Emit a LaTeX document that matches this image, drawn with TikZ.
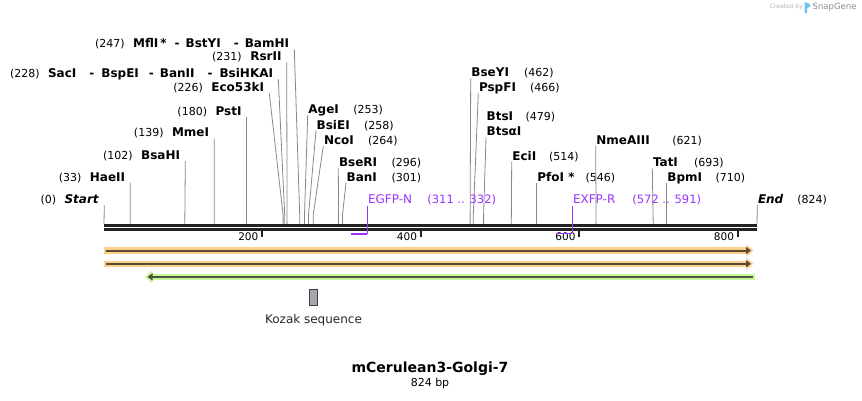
\documentclass[tikz,border=0pt]{standalone}
\usepackage{fontspec}
\setmainfont{DejaVu Sans}[ItalicFont={DejaVu Sans Oblique}, BoldFont={DejaVu Sans Bold}, BoldItalicFont={DejaVu Sans Bold Oblique}]
\usetikzlibrary{arrows.meta, positioning}
\definecolor{sitegray}{RGB}{135,135,135}
\definecolor{barblack}{RGB}{34,34,34}
\definecolor{primerpurple}{RGB}{153,51,255}
\definecolor{orangefill}{RGB}{253,208,138}
\definecolor{orangeline}{RGB}{90,74,58}
\definecolor{greenfill}{RGB}{200,245,154}
\definecolor{greenline}{RGB}{74,88,62}
\definecolor{kozakgray}{RGB}{164,168,174}
\definecolor{logoblue}{RGB}{110,196,238}
\newcommand{\enz}[1]{{\fontsize{12}{15}\selectfont\bfseries #1}}
\newcommand{\rlab}[3]{\makebox[#1][l]{\enz{#2}}(#3)}
\newcommand{\llab}[2]{(#1)\hspace{8.5pt}\enz{#2}}
\tikzstyle{site} = [inner ysep=1.5pt, text depth=0pt, text=black,
    font=\fontsize{11}{15}\selectfont]
\tikzstyle{rsite} = [site, anchor=south west, inner xsep=0.5pt]
\tikzstyle{lsite} = [site, anchor=south east, inner xsep=5pt]
\tikzstyle{cut} = [draw=sitegray, line width=0.8pt]
\tikzstyle{primer} = [draw=primerpurple, line width=1pt]
\tikzstyle{plabel} = [rsite, text=primerpurple, font=\fontsize{11.5}{15}\selectfont]
\tikzstyle{ticklabel} = [anchor=east, inner sep=1pt, font=\fontsize{10.5}{13}\selectfont]
\tikzstyle{halo} = [line width=6.4pt]
\tikzstyle{core} = [line width=2pt]

\begin{document}
\begin{tikzpicture}[x=1pt, y=-1pt]
  \useasboundingbox (0,0) rectangle (862,400);

  % Cut sites on the backbone
  \coordinate (c0) at (104,224);
  \coordinate (c33) at (130.2,224);
  \coordinate (c102) at (184.8,224);
  \coordinate (c139) at (214.2,224);
  \coordinate (c180) at (246.7,224);
  \coordinate (c226) at (283.1,224);
  \coordinate (c228) at (284.7,224);
  \coordinate (c231) at (287.1,224);
  \coordinate (c247) at (299.7,224);
  \coordinate (c253) at (304.5,224);
  \coordinate (c258) at (308.5,224);
  \coordinate (c264) at (313.2,224);
  \coordinate (c296) at (338.6,224);
  \coordinate (c301) at (342.5,224);
  \coordinate (c462) at (470.1,224);
  \coordinate (c466) at (473.3,224);
  \coordinate (c479) at (483.6,224);
  \coordinate (c514) at (511.3,224);
  \coordinate (c546) at (536.7,224);
  \coordinate (c621) at (596.1,224);
  \coordinate (c693) at (653.2,224);
  \coordinate (c710) at (666.7,224);
  \coordinate (c824) at (757,224);

  % Enzymes, left of their lines
  \node [lsite] (startlbl) at (104.3,205) {\llab{0}{\textit{Start}}};
  \node [lsite] (haeii) at (130.3,182.7) {\llab{33}{HaeII}};
  \node [lsite] (bsahi) at (185.3,161) {\llab{102}{BsaHI}};
  \node [lsite] (mmei) at (214.3,138.3) {\llab{139}{MmeI}};
  \node [lsite] (psti) at (246.7,117.3) {\llab{180}{PstI}};
  \node [lsite] (eco) at (269.3,93.3) {\llab{226}{Eco53kI}};
  \node [lsite] (saci) at (278.3,79)
    {\llab{228}{SacI\hspace{13pt}-\hspace{7pt}BspEI\hspace{10pt}-\hspace{6pt}BanII\hspace{13pt}-\hspace{7pt}BsiHKAI}};
  \node [lsite] (rsrii) at (286.7,62.3) {\llab{231}{RsrII}};
  \node [lsite] (bamhi) at (294.3,49.3)
    {\llab{247}{MflI\,*\hspace{8pt}-\hspace{6pt}BstYI\hspace{13pt}-\hspace{6pt}BamHI}};

  % Enzymes, right of their lines
  \node [rsite] (agei) at (307.7,115) {\rlab{45pt}{AgeI}{253}};
  \node [rsite] (bsiei) at (316,130.7) {\rlab{47.3pt}{BsiEI}{258}};
  \node [rsite] (ncoi) at (323.3,146) {\rlab{44pt}{NcoI}{264}};
  \node [rsite] (bseri) at (338.3,168.3) {\rlab{52.7pt}{BseRI}{296}};
  \node [rsite] (bani) at (346,182.7) {\rlab{45pt}{BanI}{301}};
  \node [rsite] (bseyi) at (470.7,78.3) {\rlab{52.6pt}{BseYI}{462}};
  \node [rsite] (pspfi) at (478.3,93.3) {\rlab{51pt}{PspFI}{466}};
  \node [rsite] (btsi) at (486,122.3) {\rlab{39pt}{BtsI}{479}};
  \node [rsite] (btsa) at (486,137.3) {\enz{BtsαI}};
  \node [rsite] (ecii) at (511.7,161.7) {\rlab{36.6pt}{EciI}{514}};
  \node [rsite] (pfoi) at (536.7,183.3) {\rlab{48.3pt}{PfoI *}{546}};
  \node [rsite] (nmeaiii) at (595.7,146) {\rlab{76pt}{NmeAIII}{621}};
  \node [rsite] (tati) at (652.3,168.3) {\rlab{41pt}{TatI}{693}};
  \node [rsite] (bpmi) at (666.7,183.3) {\rlab{48.3pt}{BpmI}{710}};
  \node [rsite] (endlbl) at (757.3,205) {\rlab{39.4pt}{\textit{End}}{824}};

  % Connect the labels to the cut sites
  \draw [cut] (startlbl.south east) -- (c0);
  \draw [cut] (haeii.south east) -- (c33);
  \draw [cut] (bsahi.south east) -- (c102);
  \draw [cut] (mmei.south east) -- (c139);
  \draw [cut] (psti.south east) -- (c180);
  \draw [cut] (eco.south east) -- ([yshift=9pt]c226) -- (c226);
  \draw [cut] (saci.south east) -- ([yshift=9pt]c228) -- (c228);
  \draw [cut] (rsrii.south east) -- (c231);
  \draw [cut] (bamhi.south east) -- ([yshift=9pt]c247) -- (c247);
  \draw [cut] (agei.south west) -- ([yshift=9pt]c253) -- (c253);
  \draw [cut] (bsiei.south west) -- ([yshift=9pt]c258) -- (c258);
  \draw [cut] (ncoi.south west) -- ([yshift=9pt]c264) -- (c264);
  \draw [cut] (bseri.south west) -- (c296);
  \draw [cut] (bani.south west) -- ([yshift=9pt]c301) -- (c301);
  \draw [cut] (bseyi.south west) -- (c462);
  \draw [cut] (pspfi.south west) -- ([yshift=9pt]c466) -- (c466);
  \draw [cut] (btsa.south west) -- ([yshift=9pt]c479) -- (c479);
  \draw [cut] (ecii.south west) -- (c514);
  \draw [cut] (pfoi.south west) -- (c546);
  \draw [cut] (nmeaiii.south west) -- (c621);
  \draw [cut] (tati.south west) -- (c693);
  \draw [cut] (bpmi.south west) -- (c710);
  \draw [cut] (endlbl.south west) -- (c824);

  % Backbone and ruler
  \draw [barblack, line width=2.6pt] (104,225.4) -- (757.3,225.4);
  \draw [barblack, line width=2.8pt] (104,229.5) -- (757.3,229.5);
  \draw [barblack, line width=1.8pt] (262,230) -- (262,237.3);
  \draw [barblack, line width=1.8pt] (420.7,230) -- (420.7,237.3);
  \draw [barblack, line width=1.8pt] (579.2,230) -- (579.2,237.3);
  \draw [barblack, line width=1.8pt] (737.7,230) -- (737.7,237.3);
  \node [ticklabel] (t200) at (259.5,236.5) {200};
  \node [ticklabel] (t400) at (418.2,236.5) {400};
  \node [ticklabel] (t600) at (576.7,236.5) {600};
  \node [ticklabel] (t800) at (735.2,236.5) {800};

  % Primers
  \coordinate (p311) at (350.5,234);
  \coordinate (p332) at (367.3,234);
  \coordinate (p572) at (556.3,233.3);
  \coordinate (p591) at (572.3,233.3);
  \node [plabel] (egfpn) at (367.3,205.5)
    {\makebox[59.4pt][l]{\fontsize{12}{15}\selectfont EGFP-N}(311 .. 332)};
  \node [plabel] (exfpr) at (572.3,205.5)
    {\makebox[59.4pt][l]{\fontsize{12}{15}\selectfont EXFP-R}(572 .. 591)};
  \draw [primer] (egfpn.south west) -- (p332);
  \draw [primer, line width=1.6pt] (p332) -- (p311);
  \draw [primer] (exfpr.south west) -- (p591);
  \draw [primer, line width=1.6pt] (p591) -- (p572);

  % Features
  \draw [halo, orangefill, -{Triangle[length=7pt,width=12pt]}] (104,250.5) -- (753.5,250.5);
  \draw [core, orangeline, -{Triangle[length=5pt,width=7pt]}] (105.5,250.5) -- (751,250.5);
  \draw [halo, orangefill, -{Triangle[length=7pt,width=12pt]}] (104,263.8) -- (753.5,263.8);
  \draw [core, orangeline, -{Triangle[length=5pt,width=7pt]}] (105.5,263.8) -- (751,263.8);
  \draw [halo, greenfill, -{Triangle[length=7pt,width=12pt]}] (755,276.9) -- (145,276.9);
  \draw [core, greenline, -{Triangle[length=5pt,width=7pt]}] (752.7,276.9) -- (147.5,276.9);

  % Kozak sequence
  \node [draw=black!75, fill=kozakgray, line width=0.8pt, minimum width=8pt,
    minimum height=16pt, inner sep=0pt] (kozak) at (313.5,297.5) {};
  \node [below=5pt of kozak, font=\fontsize{12}{14}\selectfont, text=black!85] (kozaklbl) {Kozak sequence};

  % Title
  \node [font=\fontsize{14}{16}\selectfont\bfseries] (title) at (430,369) {mCerulean3-Golgi-7};
  \node [font=\fontsize{11}{13}\selectfont] (length) at (430,383.3) {824 bp};

  % Logo
  \node [anchor=east, inner sep=0pt, text=black!30, font=\fontsize{6}{7}\selectfont] (created) at (803,7.3) {Created by};
  \fill [logoblue] (804.5,2) -- (809,3.5) -- (810.5,6) -- (807,8.5) -- (807,13) -- (804.5,13) -- cycle;
  \node [anchor=west, inner sep=0pt, text=black!45, font=\fontsize{8.5}{9}\selectfont] (snapgene) at (812.5,7.3) {SnapGene};
\end{tikzpicture}
\end{document}
